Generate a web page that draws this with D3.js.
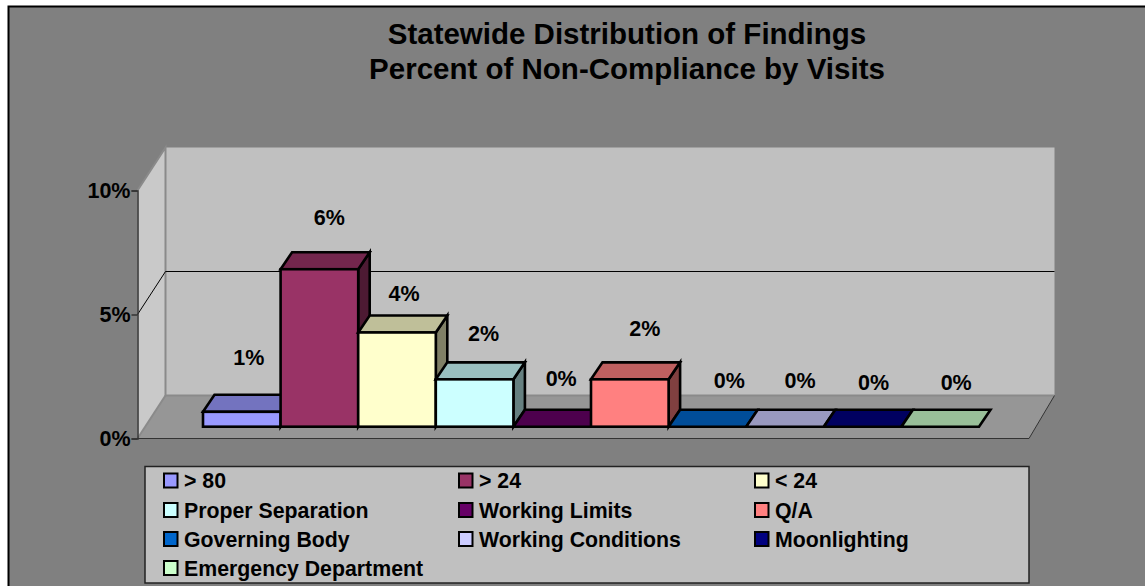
<!DOCTYPE html>
<html><head><meta charset="utf-8">
<script src="https://cdn.jsdelivr.net/npm/d3@7"></script>
<style>html,body{margin:0;padding:0;background:#fff;overflow:hidden}svg{display:block}text{font-family:"Liberation Sans",Arial,sans-serif;font-weight:700;fill:#000}</style>
</head><body><svg id="c" width="1145" height="586"></svg>
<script>
const titleLines = ["Statewide Distribution of Findings", "Percent of Non-Compliance by Visits"];
const seriesNames = ["> 80", "> 24", "< 24", "Proper Separation", "Working Limits", "Q/A", "Governing Body", "Working Conditions", "Moonlighting", "Emergency Department"];
const seriesValues = [0.6, 6.35, 3.8, 1.91, 0, 1.91, 0, 0, 0, 0];
const valueLabels = ["1%", "6%", "4%", "2%", "0%", "2%", "0%", "0%", "0%", "0%"];
const fillColors = ["#9999ff", "#993366", "#ffffcc", "#ccffff", "#660066", "#ff8080", "#0066cc", "#ccccff", "#000080", "#ccffcc"];
const yTicks = [0, 5, 10];
const labelShiftX = [7, 10, 7, 9, 9, 15, 22, 15, 11, 16];
const labelShiftY = [-30, -27, -14, -21, -24, -26, -22, -22, -20, -20];

const svg = d3.select("#c");
const W = 1145, H = 586;
const depth = {x: 28, y: -43};
const front = {x0: 137.5, x1: 1029, y0: 438.5};
const y = d3.scaleLinear().domain([0, 10]).range([front.y0, 190.5]);
const x = d3.scaleBand().domain(seriesNames).range([203, 979]);
const barBaseY = 426.7, bd = {x: 11.5, y: -17};
const pts = a => a.map(p => p.join(",")).join(" ");

// chart area
svg.append("rect").attr("x", 8.5).attr("y", 6.5).attr("width", W).attr("height", H).attr("fill", "#808080").attr("stroke", "#000").attr("stroke-width", 2);

// title
svg.append("g").selectAll("text").data(titleLines).join("text")
  .attr("x", 627).attr("y", (d, i) => 44 + i * 35).attr("text-anchor", "middle").attr("font-size", 29.5).text(d => d);

// walls and floor
const yb = v => y(v) + depth.y;
const bx0 = front.x0 + depth.x, bx1 = front.x1 + depth.x - 2.5;
svg.append("polygon").attr("points", pts([[bx0, yb(0)], [bx1, yb(0)], [bx1, yb(10)], [bx0, yb(10)]])).attr("fill", "#c0c0c0");
svg.append("polygon").attr("points", pts([[front.x0, y(0)], [bx0, yb(0)], [bx0, yb(10)], [front.x0, y(10)]])).attr("fill", "#c9c9c9");
svg.append("polygon").attr("points", pts([[front.x0, y(0)], [bx0, yb(0)], [bx1, yb(0)], [front.x1, y(0)]])).attr("fill", "#969696");
svg.append("polyline").attr("points", pts([[front.x0, y(10)], [bx0, yb(10)], [bx0, yb(0)], [bx1, yb(0)]])).attr("fill", "none").attr("stroke", "#8a8a8a").attr("stroke-width", 2);
svg.append("polyline").attr("points", pts([[front.x0, y(0)], [bx0, yb(0)]])).attr("stroke", "#8a8a8a").attr("stroke-width", 2);
svg.append("polyline").attr("points", pts([[front.x0, y(0)], [front.x1, y(0)], [bx1, yb(0)]])).attr("fill", "none").attr("stroke", "#333").attr("stroke-width", 1);

// gridline at 5%
svg.append("polyline").attr("points", pts([[front.x0, y(5)], [bx0, yb(5)], [bx1, yb(5)]])).attr("fill", "none").attr("stroke", "#000").attr("stroke-width", 1);

// value axis
const axis = d3.axisLeft(y).tickValues(yTicks).tickSize(6).tickPadding(1).tickFormat(d => d + "%");
const ag = svg.append("g").attr("transform", `translate(${front.x0},0)`).call(axis);
ag.selectAll("path,line").attr("stroke", "#333").attr("stroke-width", 1.5);
ag.selectAll("text").attr("font-size", 21.5).attr("font-family", null);

// bars
const bars = svg.append("g").selectAll("g").data(seriesNames).join("g");
const shade = (c, k) => { const q = d3.rgb(c); return d3.rgb(q.r * k, q.g * k, q.b * k).formatHex(); };
const val = i => seriesValues[i];
const h = i => y(0) - y(val(i));
bars.each(function (name, i) {
  const g = d3.select(this), l = x(name), r = l + x.bandwidth(), t = barBaseY - h(i), c = fillColors[i];
  if (val(i) > 0) {
    g.append("polygon").attr("points", pts([[r, barBaseY], [r + bd.x, barBaseY + bd.y], [r + bd.x, t + bd.y], [r, t]])).attr("fill", shade(c, 0.5));
    g.append("polygon").attr("points", pts([[l, t], [l + bd.x, t + bd.y], [r + bd.x, t + bd.y], [r, t]])).attr("fill", shade(c, 0.75));
    g.append("rect").attr("x", l).attr("y", t).attr("width", x.bandwidth()).attr("height", h(i)).attr("fill", c);
  } else {
    g.append("polygon").attr("points", pts([[l, t], [l + bd.x, t + bd.y], [r + bd.x, t + bd.y], [r, t]])).attr("fill", shade(c, 0.75));
  }
  g.selectAll("*").attr("stroke", "#000").attr("stroke-width", 2.6).attr("stroke-linejoin", "miter");
});

// data labels
svg.append("g").selectAll("text").data(seriesNames).join("text")
  .attr("x", (d, i) => x(d) + x.bandwidth() / 2 + labelShiftX[i])
  .attr("y", (d, i) => barBaseY - h(i) + bd.y + labelShiftY[i])
  .attr("text-anchor", "middle").attr("font-size", 21.5).text((d, i) => valueLabels[i]);

// legend
const lg = svg.append("g");
lg.append("rect").attr("x", 145).attr("y", 466.5).attr("width", 884).attr("height", 116.5).attr("fill", "#c0c0c0").attr("stroke", "#222").attr("stroke-width", 1.5);
const cols = [164, 459, 755], rows = [480.5, 510, 539, 568];
const items = lg.selectAll("g").data(seriesNames).join("g").attr("transform", (d, i) => `translate(${cols[i % 3]},${rows[Math.floor(i / 3)]})`);
items.append("rect").attr("x", 0).attr("y", -7).attr("width", 13.5).attr("height", 14).attr("fill", (d, i) => fillColors[i]).attr("stroke", "#000").attr("stroke-width", 2);
items.append("text").attr("x", 20).attr("y", 7.5).attr("font-size", 21.3).text(d => d);
</script></body></html>
